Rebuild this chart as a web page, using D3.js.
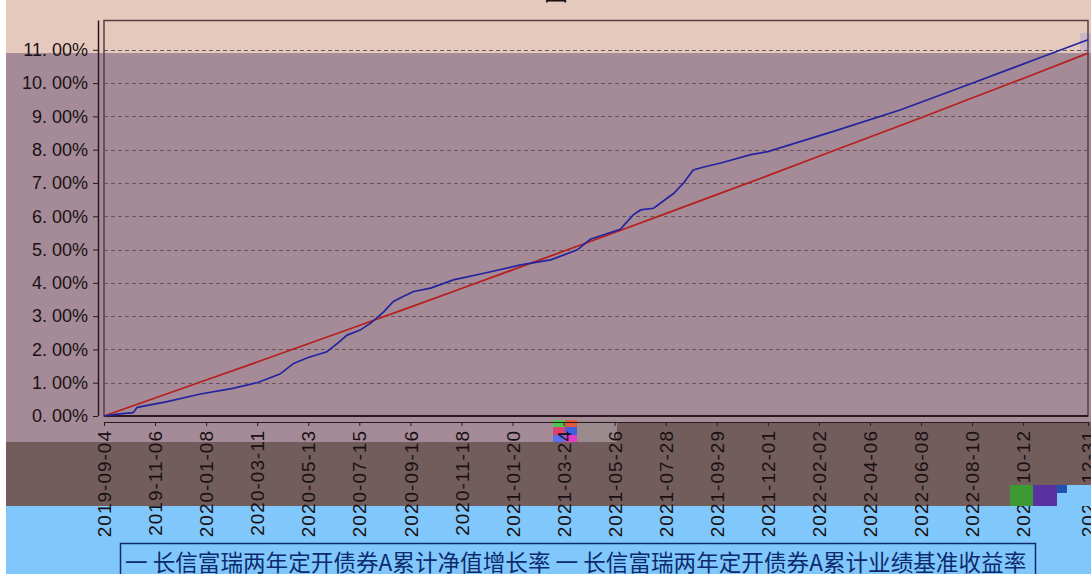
<!DOCTYPE html>
<html>
<head>
<meta charset="utf-8">
<script src="https://cdn.jsdelivr.net/npm/d3@7"></script>
<style>
  html, body { margin: 0; padding: 0; background: #fff; }
  #chart { width: 1091px; height: 574px; }
  svg { display: block; }
  .grid line { stroke: #6a545c; stroke-dasharray: 4 3; }
  .y-axis text, .x-axis text { font-family: "Liberation Sans", Arial, sans-serif; fill: #1a1014; }
  .legend text { font-family: "Noto Sans CJK SC", sans-serif; }
</style>
</head>
<body>
<div id="chart"></div>
<script>
// 长信富瑞两年定开债券A — cumulative NAV growth vs benchmark, values in %
const seriesNames = [
  "长信富瑞两年定开债券A累计净值增长率",
  "长信富瑞两年定开债券A累计业绩基准收益率",
];

const navDates = [
  "2019-09-04", "2019-09-18", "2019-09-30", "2019-10-10", "2019-10-15",
  "2019-11-21", "2020-01-01", "2020-02-10", "2020-03-11", "2020-04-08",
  "2020-04-25", "2020-05-12", "2020-06-05", "2020-06-18", "2020-06-30",
  "2020-07-16", "2020-07-29", "2020-08-14", "2020-08-26", "2020-09-07",
  "2020-09-20", "2020-10-11", "2020-11-08", "2020-12-20", "2021-01-30",
  "2021-03-08", "2021-04-10", "2021-04-26", "2021-06-02", "2021-06-18",
  "2021-06-27", "2021-07-13", "2021-08-07", "2021-08-19", "2021-08-31",
  "2021-09-13", "2021-10-04", "2021-11-10", "2021-12-01", "2022-02-20",
  "2022-05-14", "2022-08-05", "2022-10-26", "2022-12-31",
];
const navValues = [
  0.00, 0.05, 0.08, 0.10, 0.26,
  0.43, 0.66, 0.83, 1.00, 1.26,
  1.58, 1.75, 1.93, 2.18, 2.43,
  2.58, 2.79, 3.13, 3.44, 3.59,
  3.74, 3.84, 4.09, 4.31, 4.54,
  4.69, 4.99, 5.31, 5.61, 6.04,
  6.19, 6.24, 6.69, 7.00, 7.39,
  7.48, 7.60, 7.85, 7.94, 8.55,
  9.20, 9.95, 10.70, 11.30,
];

const benchDates = [
  "2019-09-04", "2019-11-06", "2020-01-08", "2020-03-11", "2020-05-13",
  "2020-07-15", "2020-09-16", "2020-11-18", "2021-01-20", "2021-03-24",
  "2021-05-26", "2021-07-28", "2021-09-29", "2021-12-01", "2022-02-02",
  "2022-04-06", "2022-06-08", "2022-08-10", "2022-10-12", "2022-12-31",
];
const benchValues = [
  0.00, 0.54, 1.08, 1.62, 2.17,
  2.72, 3.27, 3.83, 4.39, 4.95,
  5.51, 6.08, 6.65, 7.22, 7.80,
  8.38, 8.96, 9.55, 10.14, 10.90,
];

const xTickLabels = benchDates;
const yTicks = [0, 1, 2, 3, 4, 5, 6, 7, 8, 9, 10, 11];

const width = 1091, height = 574;
const plot = { left: 104, right: 1088, top: 20.5, bottom: 416 };
const parseDate = d3.utcParse("%Y-%m-%d");

const x = d3.scaleUtc()
  .domain([parseDate(xTickLabels[0]), parseDate(xTickLabels[xTickLabels.length - 1])])
  .range([plot.left, plot.right]);
const y = d3.scaleLinear().domain([0, 11.88]).range([plot.bottom, plot.top]);

const svg = d3.select("#chart").append("svg")
  .attr("width", width).attr("height", height)
  .attr("viewBox", [0, 0, width, height]);

const drawBlocks = (g, blocks) =>
  g.selectAll("rect").data(blocks).join("rect")
    .attr("x", (d) => d[0]).attr("y", (d) => d[1])
    .attr("width", (d) => d[2]).attr("height", (d) => d[3])
    .attr("fill", (d) => d[4]);

// background bands (as in the captured picture)
drawBlocks(svg.append("g"), [
  [0, 0, width, 53, "#e6c9bd"],
  [0, 53, width, 389, "#a48b97"],
  [0, 442, width, 64, "#735d5c"],
  [577, 422, width - 577, 20, "#735d5c"],
  [0, 506, width, 68, "#80c8fc"],
  [1080, 33, 11, 20, "#c9b6c6"],
  [0, 0, 6, height, "#ffffff"],
  [553, 420, 12, 7, "#4cc84c"], [565, 420, 12, 7, "#e05a3a"],
  [553, 427, 12, 8, "#e04070"], [565, 427, 12, 8, "#4060e0"],
  [553, 435, 12, 7, "#5a70f0"], [565, 435, 12, 7, "#e040c0"],
  [577, 420, 40, 22, "#9a8a8e"],
]);

// title, mostly cut off at the top
svg.append("text").attr("x", 556).attr("y", 0)
  .attr("text-anchor", "middle").attr("font-family", "Noto Sans CJK SC")
  .attr("font-size", 24).attr("fill", "#1a1010").text("图");

// grid
svg.append("g").attr("class", "grid")
  .selectAll("line").data(yTicks.filter((d) => d > 0)).join("line")
  .attr("x1", plot.left).attr("x2", plot.right)
  .attr("y1", (d) => Math.round(y(d)) + 0.5).attr("y2", (d) => Math.round(y(d)) + 0.5);

// y axis
const yAxis = svg.append("g").attr("class", "y-axis")
  .attr("transform", `translate(98,0)`)
  .call(d3.axisLeft(y).tickValues(yTicks).tickSize(5).tickPadding(5)
    .tickFormat((d) => d3.format(".2f")(d).replace(".", ". ") + "%"));
yAxis.select(".domain").attr("d", `M0.5,${plot.top}V${plot.bottom}`).attr("stroke", "#2a1a20").attr("stroke-width", 1.5);
yAxis.selectAll(".tick line").attr("stroke", "#2a1a20");
yAxis.selectAll("text").attr("font-size", 18);

// frame
svg.append("path")
  .attr("d", `M${plot.left},${plot.bottom}V${plot.top}H${plot.right}V${plot.bottom}Z`)
  .attr("fill", "none").attr("stroke", "#5a3e44").attr("stroke-width", 1.5);
svg.append("line").attr("x1", plot.left).attr("x2", plot.right)
  .attr("y1", plot.bottom).attr("y2", plot.bottom).attr("stroke", "#2a1a20").attr("stroke-width", 2);

// x axis (labels rotated, two colours because of the band beneath)
const defs = svg.append("defs");
defs.append("clipPath").attr("id", "clip-dark").append("rect")
  .attr("x", 0).attr("y", 0).attr("width", width).attr("height", 506);
defs.append("clipPath").attr("id", "clip-blue").append("rect")
  .attr("x", 0).attr("y", 506).attr("width", width).attr("height", 68);

const tickDates = xTickLabels.map(parseDate);
[["clip-dark", "#140c10"], ["clip-blue", "#0c2a6c"]].forEach(([clip, color]) => {
  const g = svg.append("g").attr("class", "x-axis")
    .attr("clip-path", `url(#${clip})`)
    .attr("transform", `translate(0,422)`)
    .call(d3.axisBottom(x).tickValues(tickDates).tickSize(4).tickPadding(0)
      .tickFormat(d3.utcFormat("%Y-%m-%d")));
  g.select(".domain").attr("d", `M${plot.left},0.5H${plot.right}`).attr("stroke", "#2a1a20");
  g.selectAll(".tick line").attr("stroke", "#2a1a20");
  g.selectAll("text")
    .attr("font-size", 19).attr("letter-spacing", 1).attr("fill", color)
    .attr("text-anchor", "end").attr("dy", "0.35em")
    .attr("transform", "translate(0,8) rotate(-90)")
    .attr("x", 0).attr("y", 0);
});

// glitch blocks over the lower right labels
drawBlocks(svg.append("g"), [
  [1010, 485, 23, 21, "#3c9a34"], [1033, 485, 24, 21, "#5a32a0"],
  [1057, 485, 10, 8, "#2050b0"], [1057, 493, 34, 13, "#80c8fc"], [1067, 485, 24, 8, "#80c8fc"],
]);

// lines
const line = d3.line().x((d) => x(d.date)).y((d) => y(d.value));
const navData = navDates.map((d, i) => ({ date: parseDate(d), value: navValues[i] }));
const benchData = benchDates.map((d, i) => ({ date: parseDate(d), value: benchValues[i] }));

svg.append("path").datum(benchData).attr("d", line)
  .attr("fill", "none").attr("stroke", "#b81e1e").attr("stroke-width", 1.7);
svg.append("path").datum(navData).attr("d", line)
  .attr("fill", "none").attr("stroke", "#2424a0").attr("stroke-width", 1.7);

// legend
const legend = svg.append("g").attr("class", "legend");
legend.append("rect").attr("x", 120.5).attr("y", 543.5).attr("width", 915).attr("height", 40)
  .attr("fill", "none").attr("stroke", "#0c2a6c").attr("stroke-width", 1.5);
const legendText = legend.append("text").attr("x", 125).attr("y", 571)
  .attr("font-size", 22.6).attr("fill", "#0c2a6c");
legendText.append("tspan").text("一 " + seriesNames[0] + " ");
legendText.append("tspan").text("一 " + seriesNames[1]);
</script>
</body>
</html>
